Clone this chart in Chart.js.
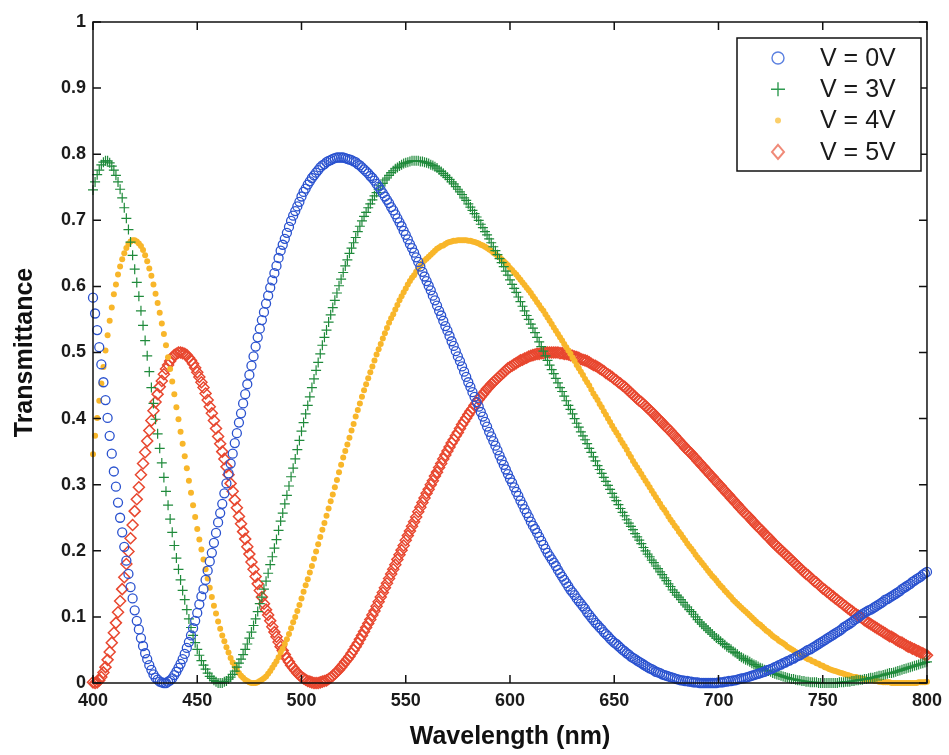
<!DOCTYPE html>
<html lang="en">
<head>
<meta charset="UTF-8">
<title>Transmittance vs Wavelength</title>
<script src="https://cdn.jsdelivr.net/npm/chart.js"></script>
<style>
    html, body { margin: 0; padding: 0; background: #fff; }
    #wrap { width: 949px; height: 755px; }
</style>
</head>
<body>
<div id="wrap"><canvas id="spectrum" width="949" height="755"></canvas></div>

<script>
// wavelength samples (nm), 1 nm apart
const wavelengths = [
    400, 401, 402, 403, 404, 405, 406, 407, 408, 409,
    410, 411, 412, 413, 414, 415, 416, 417, 418, 419,
    420, 421, 422, 423, 424, 425, 426, 427, 428, 429,
    430, 431, 432, 433, 434, 435, 436, 437, 438, 439,
    440, 441, 442, 443, 444, 445, 446, 447, 448, 449,
    450, 451, 452, 453, 454, 455, 456, 457, 458, 459,
    460, 461, 462, 463, 464, 465, 466, 467, 468, 469,
    470, 471, 472, 473, 474, 475, 476, 477, 478, 479,
    480, 481, 482, 483, 484, 485, 486, 487, 488, 489,
    490, 491, 492, 493, 494, 495, 496, 497, 498, 499,
    500, 501, 502, 503, 504, 505, 506, 507, 508, 509,
    510, 511, 512, 513, 514, 515, 516, 517, 518, 519,
    520, 521, 522, 523, 524, 525, 526, 527, 528, 529,
    530, 531, 532, 533, 534, 535, 536, 537, 538, 539,
    540, 541, 542, 543, 544, 545, 546, 547, 548, 549,
    550, 551, 552, 553, 554, 555, 556, 557, 558, 559,
    560, 561, 562, 563, 564, 565, 566, 567, 568, 569,
    570, 571, 572, 573, 574, 575, 576, 577, 578, 579,
    580, 581, 582, 583, 584, 585, 586, 587, 588, 589,
    590, 591, 592, 593, 594, 595, 596, 597, 598, 599,
    600, 601, 602, 603, 604, 605, 606, 607, 608, 609,
    610, 611, 612, 613, 614, 615, 616, 617, 618, 619,
    620, 621, 622, 623, 624, 625, 626, 627, 628, 629,
    630, 631, 632, 633, 634, 635, 636, 637, 638, 639,
    640, 641, 642, 643, 644, 645, 646, 647, 648, 649,
    650, 651, 652, 653, 654, 655, 656, 657, 658, 659,
    660, 661, 662, 663, 664, 665, 666, 667, 668, 669,
    670, 671, 672, 673, 674, 675, 676, 677, 678, 679,
    680, 681, 682, 683, 684, 685, 686, 687, 688, 689,
    690, 691, 692, 693, 694, 695, 696, 697, 698, 699,
    700, 701, 702, 703, 704, 705, 706, 707, 708, 709,
    710, 711, 712, 713, 714, 715, 716, 717, 718, 719,
    720, 721, 722, 723, 724, 725, 726, 727, 728, 729,
    730, 731, 732, 733, 734, 735, 736, 737, 738, 739,
    740, 741, 742, 743, 744, 745, 746, 747, 748, 749,
    750, 751, 752, 753, 754, 755, 756, 757, 758, 759,
    760, 761, 762, 763, 764, 765, 766, 767, 768, 769,
    770, 771, 772, 773, 774, 775, 776, 777, 778, 779,
    780, 781, 782, 783, 784, 785, 786, 787, 788, 789,
    790, 791, 792, 793, 794, 795, 796, 797, 798, 799,
    800
];

// transmittance at 0 V
const t0V = [
    0.583, 0.559, 0.534, 0.508, 0.482, 0.455, 0.428, 0.401, 0.374, 0.347,
    0.320, 0.297, 0.273, 0.250, 0.228, 0.206, 0.185, 0.165, 0.145, 0.128,
    0.110, 0.094, 0.081, 0.068, 0.056, 0.045, 0.036, 0.027, 0.020, 0.013,
    0.008, 0.005, 0.002, 0.001, 0.000, 0.000, 0.002, 0.004, 0.007, 0.012,
    0.017, 0.023, 0.029, 0.036, 0.044, 0.053, 0.062, 0.072, 0.083, 0.094,
    0.106, 0.119, 0.131, 0.142, 0.156, 0.170, 0.184, 0.197, 0.212, 0.227,
    0.243, 0.257, 0.271, 0.287, 0.302, 0.317, 0.332, 0.347, 0.363, 0.378,
    0.394, 0.408, 0.423, 0.437, 0.452, 0.466, 0.480, 0.494, 0.509, 0.523,
    0.536, 0.549, 0.561, 0.574, 0.586, 0.598, 0.609, 0.620, 0.631, 0.643,
    0.654, 0.663, 0.672, 0.681, 0.690, 0.699, 0.707, 0.714, 0.721, 0.728,
    0.736, 0.743, 0.748, 0.754, 0.759, 0.764, 0.768, 0.772, 0.776, 0.780,
    0.783, 0.785, 0.788, 0.790, 0.791, 0.793, 0.794, 0.795, 0.795, 0.795,
    0.795, 0.794, 0.793, 0.792, 0.791, 0.789, 0.788, 0.785, 0.783, 0.780,
    0.777, 0.774, 0.771, 0.767, 0.764, 0.760, 0.755, 0.751, 0.746, 0.741,
    0.736, 0.731, 0.726, 0.720, 0.715, 0.709, 0.703, 0.697, 0.691, 0.684,
    0.678, 0.671, 0.664, 0.658, 0.651, 0.644, 0.637, 0.630, 0.622, 0.615,
    0.608, 0.601, 0.594, 0.586, 0.579, 0.571, 0.563, 0.556, 0.548, 0.540,
    0.533, 0.525, 0.517, 0.510, 0.502, 0.494, 0.487, 0.479, 0.471, 0.463,
    0.455, 0.448, 0.440, 0.433, 0.425, 0.418, 0.410, 0.403, 0.395, 0.388,
    0.380, 0.373, 0.366, 0.359, 0.352, 0.344, 0.337, 0.330, 0.323, 0.316,
    0.309, 0.303, 0.296, 0.289, 0.283, 0.276, 0.270, 0.263, 0.257, 0.251,
    0.244, 0.238, 0.233, 0.227, 0.221, 0.215, 0.209, 0.203, 0.197, 0.192,
    0.187, 0.182, 0.177, 0.171, 0.166, 0.161, 0.156, 0.151, 0.146, 0.141,
    0.137, 0.133, 0.128, 0.124, 0.120, 0.116, 0.112, 0.107, 0.103, 0.099,
    0.095, 0.091, 0.088, 0.084, 0.081, 0.077, 0.074, 0.071, 0.067, 0.064,
    0.061, 0.059, 0.056, 0.053, 0.050, 0.048, 0.045, 0.043, 0.040, 0.038,
    0.036, 0.034, 0.032, 0.030, 0.028, 0.026, 0.024, 0.022, 0.021, 0.019,
    0.017, 0.016, 0.015, 0.013, 0.012, 0.011, 0.010, 0.009, 0.008, 0.007,
    0.006, 0.005, 0.004, 0.004, 0.003, 0.003, 0.002, 0.002, 0.001, 0.001,
    0.001, 0.000, 0.000, 0.000, 0.000, 0.000, 0.000, 0.000, 0.000, 0.000,
    0.001, 0.001, 0.001, 0.002, 0.002, 0.003, 0.003, 0.004, 0.004, 0.005,
    0.006, 0.007, 0.007, 0.008, 0.009, 0.010, 0.011, 0.012, 0.013, 0.014,
    0.015, 0.016, 0.017, 0.019, 0.020, 0.021, 0.022, 0.024, 0.025, 0.027,
    0.028, 0.030, 0.031, 0.033, 0.034, 0.036, 0.037, 0.039, 0.041, 0.042,
    0.044, 0.046, 0.048, 0.050, 0.051, 0.053, 0.055, 0.057, 0.059, 0.061,
    0.063, 0.065, 0.067, 0.069, 0.071, 0.073, 0.075, 0.077, 0.079, 0.081,
    0.084, 0.086, 0.088, 0.090, 0.092, 0.095, 0.097, 0.099, 0.102, 0.104,
    0.106, 0.108, 0.110, 0.111, 0.113, 0.115, 0.117, 0.119, 0.121, 0.123,
    0.126, 0.127, 0.129, 0.131, 0.133, 0.135, 0.137, 0.139, 0.142, 0.144,
    0.146, 0.148, 0.150, 0.153, 0.155, 0.157, 0.159, 0.161, 0.164, 0.166,
    0.168
];

// transmittance at 3 V
const t3V = [
    0.746, 0.758, 0.769, 0.776, 0.784, 0.788, 0.790, 0.790, 0.787, 0.782,
    0.776, 0.768, 0.758, 0.747, 0.734, 0.719, 0.703, 0.686, 0.667, 0.647,
    0.626, 0.606, 0.585, 0.563, 0.541, 0.518, 0.495, 0.471, 0.447, 0.423,
    0.399, 0.377, 0.355, 0.333, 0.311, 0.290, 0.269, 0.248, 0.228, 0.208,
    0.189, 0.172, 0.156, 0.140, 0.126, 0.111, 0.097, 0.084, 0.072, 0.061,
    0.051, 0.042, 0.034, 0.027, 0.021, 0.015, 0.010, 0.007, 0.004, 0.002,
    0.000, 0.000, 0.000, 0.002, 0.003, 0.006, 0.009, 0.013, 0.018, 0.024,
    0.030, 0.036, 0.043, 0.051, 0.059, 0.068, 0.077, 0.087, 0.097, 0.108,
    0.120, 0.130, 0.142, 0.154, 0.166, 0.179, 0.191, 0.204, 0.217, 0.231,
    0.245, 0.257, 0.271, 0.284, 0.298, 0.312, 0.325, 0.339, 0.353, 0.367,
    0.381, 0.394, 0.407, 0.420, 0.433, 0.447, 0.460, 0.473, 0.485, 0.498,
    0.511, 0.523, 0.534, 0.546, 0.557, 0.568, 0.579, 0.590, 0.601, 0.611,
    0.621, 0.631, 0.640, 0.650, 0.658, 0.666, 0.674, 0.683, 0.691, 0.699,
    0.706, 0.712, 0.719, 0.725, 0.731, 0.737, 0.742, 0.747, 0.752, 0.756,
    0.761, 0.764, 0.768, 0.772, 0.775, 0.778, 0.780, 0.782, 0.784, 0.786,
    0.787, 0.788, 0.789, 0.790, 0.790, 0.790, 0.790, 0.789, 0.789, 0.788,
    0.787, 0.786, 0.784, 0.783, 0.781, 0.779, 0.776, 0.774, 0.771, 0.768,
    0.765, 0.762, 0.758, 0.755, 0.751, 0.747, 0.743, 0.739, 0.734, 0.730,
    0.725, 0.720, 0.715, 0.710, 0.705, 0.700, 0.694, 0.689, 0.683, 0.678,
    0.672, 0.666, 0.660, 0.654, 0.648, 0.642, 0.636, 0.630, 0.623, 0.617,
    0.610, 0.603, 0.597, 0.591, 0.584, 0.577, 0.570, 0.563, 0.556, 0.550,
    0.543, 0.537, 0.530, 0.523, 0.516, 0.509, 0.502, 0.495, 0.488, 0.481,
    0.474, 0.468, 0.461, 0.454, 0.447, 0.441, 0.434, 0.427, 0.420, 0.414,
    0.407, 0.400, 0.393, 0.387, 0.380, 0.374, 0.368, 0.362, 0.355, 0.349,
    0.342, 0.336, 0.329, 0.323, 0.317, 0.311, 0.305, 0.299, 0.293, 0.287,
    0.281, 0.276, 0.270, 0.264, 0.258, 0.253, 0.247, 0.242, 0.237, 0.232,
    0.226, 0.221, 0.216, 0.211, 0.205, 0.200, 0.195, 0.191, 0.186, 0.182,
    0.177, 0.173, 0.168, 0.164, 0.159, 0.155, 0.150, 0.146, 0.141, 0.137,
    0.133, 0.130, 0.126, 0.122, 0.118, 0.115, 0.111, 0.108, 0.104, 0.100,
    0.096, 0.092, 0.089, 0.086, 0.083, 0.080, 0.077, 0.074, 0.071, 0.068,
    0.066, 0.063, 0.060, 0.058, 0.055, 0.053, 0.051, 0.048, 0.046, 0.044,
    0.041, 0.039, 0.037, 0.035, 0.034, 0.032, 0.030, 0.028, 0.027, 0.025,
    0.023, 0.022, 0.020, 0.019, 0.018, 0.017, 0.015, 0.014, 0.013, 0.012,
    0.011, 0.010, 0.009, 0.008, 0.007, 0.006, 0.006, 0.005, 0.004, 0.004,
    0.003, 0.003, 0.002, 0.002, 0.001, 0.001, 0.001, 0.001, 0.000, 0.000,
    0.000, 0.000, 0.000, 0.000, 0.000, 0.000, 0.000, 0.000, 0.001, 0.001,
    0.001, 0.002, 0.002, 0.002, 0.003, 0.003, 0.004, 0.004, 0.005, 0.005,
    0.006, 0.006, 0.007, 0.008, 0.008, 0.009, 0.010, 0.011, 0.011, 0.012,
    0.013, 0.014, 0.015, 0.015, 0.016, 0.017, 0.018, 0.019, 0.020, 0.021,
    0.022, 0.023, 0.024, 0.025, 0.026, 0.027, 0.028, 0.029, 0.030, 0.031,
    0.032
];

// transmittance at 4 V
const t4V = [
    0.346, 0.374, 0.401, 0.427, 0.453, 0.478, 0.503, 0.526, 0.548, 0.568,
    0.588, 0.603, 0.618, 0.630, 0.641, 0.650, 0.658, 0.664, 0.668, 0.670,
    0.670, 0.668, 0.665, 0.661, 0.655, 0.647, 0.638, 0.627, 0.616, 0.603,
    0.589, 0.575, 0.560, 0.544, 0.528, 0.511, 0.493, 0.475, 0.456, 0.437,
    0.417, 0.399, 0.380, 0.362, 0.343, 0.325, 0.306, 0.288, 0.269, 0.251,
    0.233, 0.217, 0.202, 0.187, 0.172, 0.158, 0.144, 0.130, 0.117, 0.105,
    0.093, 0.082, 0.072, 0.063, 0.054, 0.046, 0.038, 0.031, 0.025, 0.020,
    0.015, 0.011, 0.008, 0.005, 0.003, 0.001, 0.000, 0.000, 0.000, 0.001,
    0.003, 0.005, 0.007, 0.010, 0.014, 0.018, 0.023, 0.028, 0.033, 0.039,
    0.046, 0.052, 0.059, 0.066, 0.074, 0.083, 0.092, 0.100, 0.109, 0.118,
    0.128, 0.138, 0.148, 0.157, 0.167, 0.177, 0.188, 0.199, 0.210, 0.221,
    0.232, 0.242, 0.253, 0.264, 0.275, 0.285, 0.296, 0.307, 0.319, 0.330,
    0.341, 0.351, 0.361, 0.371, 0.382, 0.392, 0.403, 0.413, 0.423, 0.433,
    0.443, 0.452, 0.461, 0.470, 0.479, 0.488, 0.497, 0.505, 0.513, 0.521,
    0.529, 0.537, 0.545, 0.552, 0.558, 0.565, 0.572, 0.579, 0.585, 0.591,
    0.597, 0.603, 0.608, 0.613, 0.617, 0.622, 0.627, 0.631, 0.635, 0.639,
    0.642, 0.645, 0.648, 0.651, 0.654, 0.657, 0.659, 0.661, 0.662, 0.664,
    0.666, 0.667, 0.668, 0.669, 0.669, 0.670, 0.670, 0.670, 0.670, 0.670,
    0.669, 0.669, 0.668, 0.667, 0.666, 0.665, 0.663, 0.662, 0.660, 0.658,
    0.656, 0.654, 0.651, 0.649, 0.646, 0.644, 0.641, 0.638, 0.635, 0.632,
    0.628, 0.625, 0.621, 0.618, 0.614, 0.610, 0.606, 0.602, 0.598, 0.594,
    0.590, 0.585, 0.581, 0.576, 0.572, 0.567, 0.563, 0.558, 0.553, 0.548,
    0.543, 0.538, 0.533, 0.528, 0.523, 0.518, 0.513, 0.508, 0.503, 0.498,
    0.492, 0.487, 0.481, 0.476, 0.471, 0.466, 0.460, 0.455, 0.450, 0.444,
    0.438, 0.433, 0.428, 0.422, 0.417, 0.411, 0.406, 0.400, 0.395, 0.389,
    0.384, 0.379, 0.374, 0.368, 0.363, 0.358, 0.353, 0.347, 0.342, 0.336,
    0.331, 0.326, 0.321, 0.316, 0.311, 0.306, 0.301, 0.296, 0.291, 0.286,
    0.281, 0.276, 0.271, 0.266, 0.262, 0.257, 0.252, 0.247, 0.243, 0.238,
    0.234, 0.229, 0.225, 0.220, 0.216, 0.211, 0.207, 0.203, 0.199, 0.194,
    0.190, 0.186, 0.182, 0.178, 0.174, 0.170, 0.166, 0.162, 0.159, 0.155,
    0.151, 0.147, 0.144, 0.140, 0.137, 0.133, 0.130, 0.126, 0.123, 0.120,
    0.117, 0.114, 0.111, 0.108, 0.105, 0.102, 0.099, 0.096, 0.093, 0.090,
    0.088, 0.085, 0.082, 0.079, 0.077, 0.074, 0.071, 0.069, 0.067, 0.064,
    0.062, 0.060, 0.058, 0.055, 0.053, 0.051, 0.049, 0.047, 0.045, 0.043,
    0.042, 0.040, 0.038, 0.036, 0.035, 0.033, 0.032, 0.030, 0.029, 0.027,
    0.026, 0.024, 0.023, 0.021, 0.020, 0.019, 0.018, 0.017, 0.016, 0.015,
    0.014, 0.013, 0.012, 0.011, 0.010, 0.009, 0.009, 0.008, 0.007, 0.006,
    0.006, 0.005, 0.005, 0.004, 0.004, 0.003, 0.003, 0.002, 0.002, 0.001,
    0.001, 0.001, 0.001, 0.000, 0.000, 0.000, 0.000, 0.000, 0.000, 0.000,
    0.000, 0.000, 0.000, 0.000, 0.000, 0.000, 0.001, 0.001, 0.001, 0.001,
    0.002
];

// transmittance at 5 V
const t5V = [
    0.001, 0.000, 0.001, 0.004, 0.009, 0.016, 0.024, 0.035, 0.047, 0.061,
    0.076, 0.091, 0.107, 0.124, 0.142, 0.160, 0.180, 0.199, 0.219, 0.239,
    0.260, 0.278, 0.296, 0.315, 0.332, 0.349, 0.366, 0.382, 0.397, 0.412,
    0.425, 0.437, 0.448, 0.457, 0.467, 0.475, 0.481, 0.487, 0.492, 0.496,
    0.498, 0.500, 0.500, 0.499, 0.498, 0.496, 0.492, 0.488, 0.483, 0.477,
    0.470, 0.463, 0.455, 0.447, 0.438, 0.428, 0.418, 0.408, 0.397, 0.385,
    0.373, 0.362, 0.350, 0.339, 0.327, 0.315, 0.302, 0.290, 0.277, 0.265,
    0.252, 0.241, 0.229, 0.218, 0.206, 0.195, 0.183, 0.172, 0.161, 0.150,
    0.140, 0.130, 0.120, 0.111, 0.103, 0.094, 0.085, 0.077, 0.070, 0.062,
    0.055, 0.049, 0.043, 0.037, 0.032, 0.027, 0.023, 0.019, 0.015, 0.012,
    0.009, 0.007, 0.005, 0.003, 0.002, 0.001, 0.000, 0.000, 0.000, 0.001,
    0.002, 0.003, 0.004, 0.006, 0.008, 0.011, 0.014, 0.017, 0.020, 0.024,
    0.028, 0.032, 0.036, 0.040, 0.045, 0.050, 0.055, 0.060, 0.066, 0.072,
    0.078, 0.084, 0.090, 0.096, 0.103, 0.109, 0.116, 0.123, 0.130, 0.137,
    0.144, 0.151, 0.158, 0.165, 0.172, 0.179, 0.187, 0.194, 0.201, 0.208,
    0.216, 0.223, 0.230, 0.237, 0.244, 0.251, 0.259, 0.266, 0.273, 0.280,
    0.287, 0.293, 0.300, 0.306, 0.313, 0.319, 0.326, 0.332, 0.339, 0.345,
    0.351, 0.357, 0.363, 0.368, 0.374, 0.379, 0.385, 0.391, 0.396, 0.401,
    0.406, 0.411, 0.415, 0.420, 0.424, 0.429, 0.433, 0.437, 0.441, 0.445,
    0.448, 0.452, 0.455, 0.458, 0.461, 0.464, 0.467, 0.470, 0.473, 0.476,
    0.478, 0.480, 0.482, 0.484, 0.486, 0.488, 0.489, 0.491, 0.492, 0.494,
    0.495, 0.496, 0.497, 0.498, 0.498, 0.499, 0.499, 0.500, 0.500, 0.500,
    0.500, 0.500, 0.500, 0.500, 0.499, 0.499, 0.498, 0.498, 0.497, 0.496,
    0.495, 0.494, 0.493, 0.492, 0.490, 0.489, 0.488, 0.487, 0.485, 0.483,
    0.481, 0.480, 0.478, 0.476, 0.474, 0.472, 0.469, 0.467, 0.465, 0.463,
    0.460, 0.458, 0.455, 0.453, 0.450, 0.448, 0.445, 0.442, 0.439, 0.436,
    0.433, 0.430, 0.427, 0.425, 0.422, 0.419, 0.416, 0.413, 0.410, 0.407,
    0.403, 0.400, 0.397, 0.394, 0.390, 0.387, 0.384, 0.381, 0.377, 0.374,
    0.370, 0.367, 0.363, 0.360, 0.356, 0.353, 0.350, 0.347, 0.343, 0.340,
    0.336, 0.333, 0.329, 0.326, 0.322, 0.319, 0.315, 0.312, 0.308, 0.305,
    0.301, 0.298, 0.294, 0.291, 0.287, 0.284, 0.280, 0.277, 0.273, 0.270,
    0.266, 0.263, 0.259, 0.256, 0.253, 0.250, 0.246, 0.243, 0.239, 0.236,
    0.233, 0.230, 0.226, 0.223, 0.220, 0.217, 0.213, 0.210, 0.207, 0.204,
    0.201, 0.198, 0.195, 0.192, 0.189, 0.186, 0.183, 0.180, 0.177, 0.174,
    0.171, 0.168, 0.165, 0.163, 0.160, 0.157, 0.154, 0.152, 0.149, 0.146,
    0.143, 0.141, 0.138, 0.136, 0.133, 0.131, 0.128, 0.126, 0.123, 0.121,
    0.118, 0.116, 0.113, 0.111, 0.109, 0.106, 0.104, 0.102, 0.100, 0.098,
    0.095, 0.093, 0.091, 0.089, 0.087, 0.085, 0.083, 0.081, 0.079, 0.077,
    0.075, 0.073, 0.071, 0.070, 0.068, 0.066, 0.064, 0.062, 0.061, 0.059,
    0.057, 0.055, 0.054, 0.052, 0.051, 0.049, 0.048, 0.046, 0.045, 0.043,
    0.042
];

const seriesLabels = ['V = 0V', 'V = 3V', 'V = 4V', 'V = 5V'];
const xTicks = [400, 450, 500, 550, 600, 650, 700, 750, 800];
const yTicks = [0, 0.1, 0.2, 0.3, 0.4, 0.5, 0.6, 0.7, 0.8, 0.9, 1];

const toPoints = (values) => values.map((v, i) => ({ x: wavelengths[i], y: v }));

Chart.defaults.font.family = "'Liberation Sans', Arial, Helvetica, sans-serif";
Chart.defaults.color = '#1a1a1a';

// closed box with inward ticks on all four sides
const boxTicks = {
    id: 'boxTicks',
    afterDatasetsDraw(chart) {
        const { ctx, chartArea: a, scales: { x, y } } = chart;
        const len = 8;
        ctx.save();
        ctx.strokeStyle = '#111';
        ctx.lineWidth = 1.5;
        ctx.strokeRect(a.left, a.top, a.right - a.left, a.bottom - a.top);
        ctx.beginPath();
        xTicks.forEach(v => {
            const px = x.getPixelForValue(v);
            ctx.moveTo(px, a.bottom); ctx.lineTo(px, a.bottom - len);
            ctx.moveTo(px, a.top); ctx.lineTo(px, a.top + len);
        });
        yTicks.forEach(v => {
            const py = y.getPixelForValue(v);
            ctx.moveTo(a.left, py); ctx.lineTo(a.left + len, py);
            ctx.moveTo(a.right, py); ctx.lineTo(a.right - len, py);
        });
        ctx.stroke();
        ctx.restore();
    }
};

function drawMarker(ctx, style, color, cx, cy) {
    ctx.save();
    ctx.strokeStyle = color;
    ctx.fillStyle = color;
    ctx.lineWidth = 1.4;
    ctx.beginPath();
    if (style === 'circle') {
        ctx.arc(cx, cy, 6, 0, Math.PI * 2);
        ctx.stroke();
    } else if (style === 'cross') {
        ctx.moveTo(cx - 7, cy); ctx.lineTo(cx + 7, cy);
        ctx.moveTo(cx, cy - 7); ctx.lineTo(cx, cy + 7);
        ctx.stroke();
    } else if (style === 'dot') {
        ctx.arc(cx, cy, 3, 0, Math.PI * 2);
        ctx.fill();
    } else {
        ctx.moveTo(cx, cy - 7); ctx.lineTo(cx + 6, cy);
        ctx.lineTo(cx, cy + 7); ctx.lineTo(cx - 6, cy);
        ctx.closePath();
        ctx.lineWidth = 2;
        ctx.stroke();
    }
    ctx.restore();
}

// legend box in the upper right corner of the axes
const boxLegend = {
    id: 'boxLegend',
    afterDraw(chart) {
        const { ctx } = chart;
        const left = 737, top = 38, w = 184, h = 133;
        ctx.save();
        ctx.fillStyle = '#fff';
        ctx.fillRect(left, top, w, h);
        ctx.strokeStyle = '#111';
        ctx.lineWidth = 1.5;
        ctx.strokeRect(left, top, w, h);
        ctx.font = "25px 'Liberation Sans', Arial, sans-serif";
        ctx.textBaseline = 'middle';
        chart.data.datasets.forEach((ds, i) => {
            const cy = top + 20 + i * 31.3;
            drawMarker(ctx, ds.legendMarker, ds.legendColor, 778, cy);
            ctx.fillStyle = '#1a1a1a';
            ctx.fillText(ds.label, 820, cy + 1);
        });
        ctx.restore();
    }
};

new Chart(document.getElementById('spectrum'), {
    type: 'scatter',
    data: {
        datasets: [
            {
                label: seriesLabels[0],
                data: toPoints(t0V),
                pointStyle: 'circle',
                pointRadius: 4.5,
                borderWidth: 1.3,
                borderColor: '#2a52cf',
                backgroundColor: 'rgba(0,0,0,0)',
                legendMarker: 'circle',
                legendColor: '#5b80e0'
            },
            {
                label: seriesLabels[1],
                data: toPoints(t3V),
                pointStyle: 'cross',
                pointRadius: 5,
                borderWidth: 1.2,
                borderColor: '#1f8a3b',
                backgroundColor: '#1f8a3b',
                legendMarker: 'cross',
                legendColor: '#2f9a50'
            },
            {
                label: seriesLabels[2],
                data: toPoints(t4V),
                pointStyle: 'circle',
                pointRadius: 3,
                borderWidth: 0,
                borderColor: '#f8b62a',
                backgroundColor: '#f8b62a',
                legendMarker: 'dot',
                legendColor: '#fbcf6a'
            },
            {
                label: seriesLabels[3],
                data: toPoints(t5V),
                pointStyle: 'rectRot',
                pointRadius: 5.5,
                borderWidth: 1.5,
                borderColor: '#e8472f',
                backgroundColor: 'rgba(0,0,0,0)',
                legendMarker: 'diamond',
                legendColor: '#f08a78'
            }
        ]
    },
    options: {
        responsive: false,
        animation: false,
        devicePixelRatio: 1,
        clip: false,
        layout: { padding: { top: 22, right: 16, left: 0, bottom: 0 } },
        plugins: {
            legend: { display: false },
            tooltip: { enabled: false }
        },
        scales: {
            x: {
                type: 'linear',
                min: 400,
                max: 800,
                afterFit: (s) => { s.height = 72; },
                afterBuildTicks: (s) => { s.ticks = xTicks.map(v => ({ value: v })); },
                grid: { display: false, drawTicks: false },
                border: { display: false },
                ticks: {
                    padding: 7,
                    maxRotation: 0,
                    autoSkip: false,
                    color: '#1a1a1a',
                    font: { size: 18, weight: 'bold', lineHeight: 1.2 },
                    callback: (v) => String(v)
                },
                title: {
                    display: true,
                    text: 'Wavelength (nm)',
                    color: '#111',
                    font: { size: 25, weight: 'bold', lineHeight: 1.2 },
                    padding: { top: 0, bottom: 3 }
                }
            },
            y: {
                min: 0,
                max: 1,
                afterFit: (s) => { s.width = 93; },
                afterBuildTicks: (s) => { s.ticks = yTicks.map(v => ({ value: v })); },
                grid: { display: false, drawTicks: false },
                border: { display: false },
                ticks: {
                    padding: 7,
                    autoSkip: false,
                    color: '#1a1a1a',
                    font: { size: 18, weight: 'bold', lineHeight: 1.2 },
                    callback: (v) => String(v)
                },
                title: {
                    display: true,
                    text: 'Transmittance',
                    color: '#111',
                    font: { size: 25, weight: 'bold', lineHeight: 1.2 },
                    padding: { top: 10, bottom: 0 }
                }
            }
        }
    },
    plugins: [boxTicks, boxLegend]
});
</script>
</body>
</html>
